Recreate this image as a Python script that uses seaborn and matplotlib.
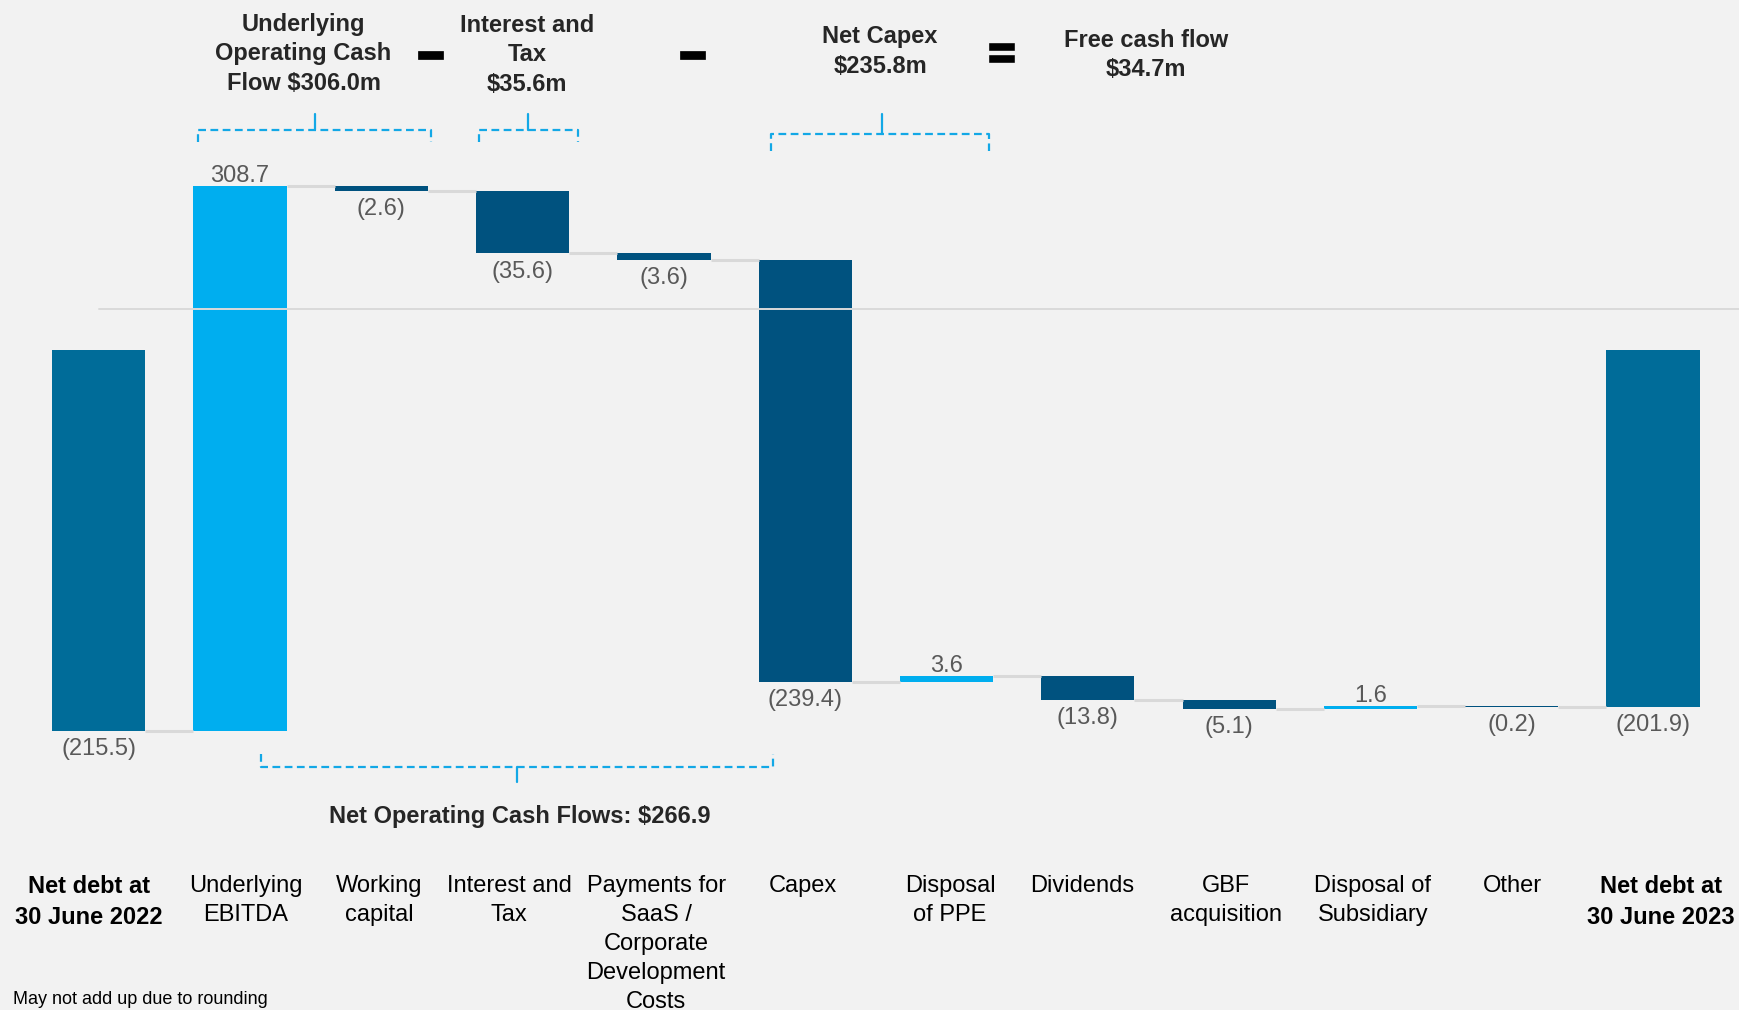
import numpy as np
import matplotlib.pyplot as plt
import matplotlib.patheffects as pe
import seaborn as sns

# ---- data ($m) ----
categories = ["Net debt at\n30 June 2022", "Underlying\nEBITDA", "Working\ncapital",
              "Interest and\nTax", "Payments for\nSaaS /\nCorporate\nDevelopment\nCosts",
              "Capex", "Disposal\nof PPE", "Dividends", "GBF\nacquisition",
              "Disposal of\nSubsidiary", "Other", "Net debt at\n30 June 2023"]
opening_debt = -215.5
movements = [308.7, -2.6, -35.6, -3.6, -239.4, 3.6, -13.8, -5.1, 1.6, -0.2]
closing_debt = -201.9
ref_line = 23.5

group_titles = ["Underlying\nOperating Cash\nFlow $306.0m", "Interest and\nTax\n$35.6m",
                "Net Capex\n$235.8m", "Free cash flow\n$34.7m"]
net_operating = "Net Operating Cash Flows: $266.9"
footnote = "May not add up due to rounding"

TOTAL = "#006C99"
POS = "#00AEEF"
NEG = "#00527F"
GREY = "#595959"
BG = "#F2F2F2"
BRACKET = "#13A8E6"

# waterfall geometry
levels = opening_debt + np.cumsum(movements)
heights = [opening_debt] + movements + [closing_debt]
bottoms = [0] + [opening_debt] + list(levels[:-1]) + [0]
colors = [TOTAL] + [POS if m > 0 else NEG for m in movements] + [TOTAL]
width = 0.66
# small horizontal nudges of the category text boxes
label_shift = [-0.07, 0.04, -0.016, -0.094, -0.055, -0.016, 0.024, -0.04, -0.024, 0.016, 0.008, 0.055]

sns.set_theme(style="white")
plt.rcParams['font.family'] = ['Liberation Sans', 'DejaVu Sans']

fig = plt.figure(figsize=(17.39, 10.10), dpi=100, facecolor=BG)
ax = fig.add_axes([0, 0, 1, 1])
ax.set_facecolor(BG)

sns.barplot(x=categories, y=heights, order=categories, bottom=bottoms, width=width,
            color=TOTAL, saturation=1, facecolor=colors, linewidth=0, errorbar=None, ax=ax)

# connectors
starts = [opening_debt] + list(levels)
for i, lvl in enumerate(starts):
    ax.plot([i + width / 2, i + 1 - width / 2], [lvl, lvl], color="#D9D9D9", lw=2.2,
            zorder=1, solid_capstyle="butt")

ax.plot([0, 12], [ref_line, ref_line], color="#DADADA", lw=1.4, zorder=5)

# value labels
for i, (h, b) in enumerate(zip(heights, bottoms)):
    txt = f"{h:.1f}" if h > 0 else f"({abs(h):.1f})"
    if h > 0 and 0 < i < len(heights) - 1:
        ax.text(i, b + h - 0.6, txt, ha="center", va="bottom", fontsize=17, color=GREY)
    else:
        ax.text(i, min(b, b + h) - 4.0, txt, ha="center", va="top", fontsize=17, color=GREY)

# category labels
for i, lab in enumerate(categories):
    bold = i in (0, len(categories) - 1)
    ax.text(i + label_shift[i], -297.5, lab, ha="center", va="top", fontsize=17, linespacing=1.41,
            fontweight="bold" if bold else "normal", color="black")

# group titles
title_kw = dict(ha="center", va="top", fontsize=17, fontweight="bold", linespacing=1.36)
ax.text(1.45, 191.5, group_titles[0], **title_kw)
ax.text(3.03, 191, group_titles[1], **title_kw)
ax.text(5.53, 184.5, group_titles[2], **title_kw)
ax.text(7.41, 182.5, group_titles[3], **title_kw)
ax.text(2.98, -264, net_operating, ha="center", va="center", fontsize=17, fontweight="bold")

# operators
for x, sym, fs, sw, fam in [(2.346, "−", 24, 3.4, "DejaVu Sans"), (4.2, "−", 24, 3.4, "DejaVu Sans"),
                            (6.393, "=", 32, 2.6, "Liberation Sans")]:
    ax.text(x, 166.8, sym, ha="center", va="center", fontsize=fs, fontweight="bold",
            family=fam, color="black",
            path_effects=[pe.withStroke(linewidth=sw, foreground="black", joinstyle="miter")])

# dashed brackets
def bracket(x0, x1, y, yend, xtick, ytick):
    kw = dict(color=BRACKET, lw=1.6, ls=(0, (3.5, 2)), zorder=4)
    ax.plot([x0, x0, x1, x1], [yend, y, y, yend], **kw)
    ax.plot([xtick, xtick], [y, ytick], color=BRACKET, lw=1.6, zorder=4)

bracket(0.70, 2.35, 125.1, 118.2, 1.53, 134.1)
bracket(2.69, 3.39, 125.1, 118.2, 3.04, 134.1)
bracket(4.76, 6.30, 122.7, 113.1, 5.54, 134.1)
bracket(1.15, 4.77, -236.4, -228.7, 2.96, -244.6)

ax.text(-0.604, -372.8, footnote, ha="left", va="bottom", fontsize=13, color="black")

ax.set_xlim(-0.6985, 11.608)
ax.set_ylim(-373.9, 198.7)
ax.axis("off")

fig.savefig("out.png", dpi=100, facecolor=BG)
